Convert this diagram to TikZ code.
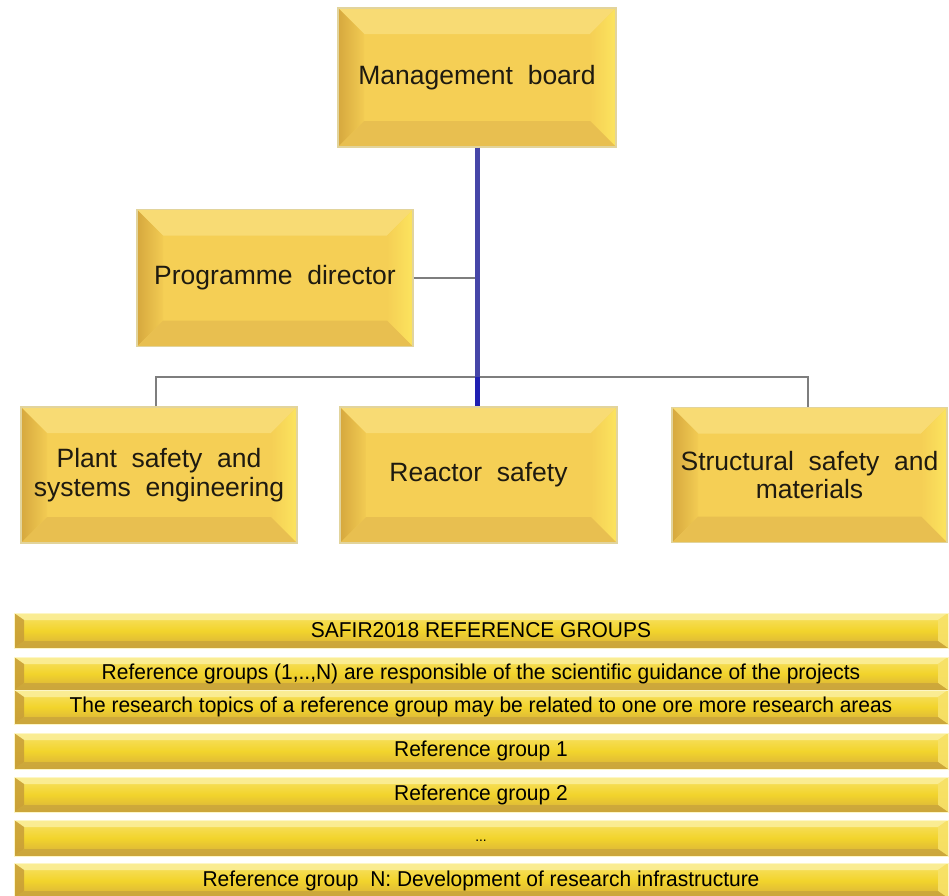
\documentclass[tikz,border=0pt]{standalone}
\usepackage{fontspec}
\setmainfont{Liberation Sans}
\newfontfamily\boxfont[WordSpace=2.0]{Liberation Sans}
\newfontfamily\barfont[FakeStretch=0.975]{Liberation Sans}
\definecolor{face}{HTML}{F5CF55}
\definecolor{bevtop}{HTML}{F8DB74}
\definecolor{bevleftA}{HTML}{D6A83E}
\definecolor{bevright}{HTML}{FCE45E}
\definecolor{bevbot}{HTML}{E8BF50}
\definecolor{boxedge}{HTML}{E2D49C}
\definecolor{txt}{HTML}{1E1A10}
\definecolor{barTop}{HTML}{F8E26A}
\definecolor{barMid}{HTML}{F2D42C}
\definecolor{barBot}{HTML}{D6AE3C}
\definecolor{barLight}{HTML}{FBF0A0}
\definecolor{barDark}{HTML}{C9A43C}
\definecolor{barLeft}{HTML}{C89E38}
\definecolor{lineGray}{HTML}{7E7E7E}
\definecolor{blueUp}{HTML}{4646A8}
\definecolor{blueDn}{HTML}{2020B2}
\tikzset{
  bw/.store in=\bevw, bw=26pt,
  bevelbox/.style={rectangle, inner sep=0pt, fill=face, draw=boxedge, line width=1.2pt,
    font=\boxfont\fontsize{26.5}{28.5}\selectfont, text=txt, align=center,
    path picture={
      \coordinate (A) at (path picture bounding box.north west);
      \coordinate (B) at (path picture bounding box.north east);
      \coordinate (C) at (path picture bounding box.south east);
      \coordinate (D) at (path picture bounding box.south west);
      \fill[bevtop] (A) -- (B) -- ([shift={(-\bevw,-\bevw)}]B) -- ([shift={(\bevw,-\bevw)}]A) -- cycle;
      \shade[left color=bevleftA, right color=face!90!bevleftA] (A) -- ([shift={(\bevw,-\bevw)}]A) -- ([shift={(\bevw,\bevw)}]D) -- (D) -- cycle;
      \shade[left color=face, right color=bevright] (B) -- (C) -- ([shift={(-\bevw,\bevw)}]C) -- ([shift={(-\bevw,-\bevw)}]B) -- cycle;
      \fill[bevbot] (D) -- ([shift={(\bevw,\bevw)}]D) -- ([shift={(-\bevw,\bevw)}]C) -- (C) -- cycle;
    }},
  barbox/.style={rectangle, inner sep=0pt, minimum width=934pt, top color=barTop, bottom color=barBot, middle color=barMid,
    draw=barLight!60!white, line width=1pt,
    font=\barfont\fontsize{21.5}{24}\selectfont, text=black, bw=10pt,
    path picture={
      \coordinate (A) at (path picture bounding box.north west);
      \coordinate (B) at (path picture bounding box.north east);
      \coordinate (C) at (path picture bounding box.south east);
      \coordinate (D) at (path picture bounding box.south west);
      \fill[barLight, opacity=0.8] (A) -- (B) -- ([shift={(-\bevw,-7pt)}]B) -- ([shift={(\bevw,-7pt)}]A) -- cycle;
      \fill[barLeft, opacity=0.85] (A) -- ([shift={(\bevw,-7pt)}]A) -- ([shift={(\bevw,7pt)}]D) -- (D) -- cycle;
      \fill[barTop, opacity=0.9] (B) -- (C) -- ([shift={(-\bevw,7pt)}]C) -- ([shift={(-\bevw,-7pt)}]B) -- cycle;
      \fill[barDark, opacity=0.8] (D) -- ([shift={(\bevw,7pt)}]D) -- ([shift={(-\bevw,7pt)}]C) -- (C) -- cycle;
    }},
  grayline/.style={draw=lineGray, line width=2.6pt},
}
\begin{document}
\begin{tikzpicture}[x=1pt, y=-1pt]
\useasboundingbox[fill=white] (0,0) rectangle (949,895);
% boxes
\node[bevelbox, minimum width=278pt, minimum height=139pt] (mb) at (477,77.5) {Management board};
\node[bevelbox, minimum width=276pt, minimum height=137pt] (pd) at (275,278) {Programme director};
\node[bevelbox, minimum width=276pt, minimum height=136pt] (ps) at (159,475) {Plant safety and\\systems engineering};
\node[bevelbox, minimum width=277pt, minimum height=136pt] (rs) at (478.5,475) {Reactor safety};
\node[bevelbox, minimum width=275pt, minimum height=135pt] (st) at (809.5,475) {Structural safety and\\materials};
% connectors
\coordinate (hy) at (477,377);
\draw[grayline] (pd.east) -- (pd.east -| mb.south);
\draw[grayline] (ps.north -| 156,0) -- (156,377) -- (808,377) -- (st.north -| 808,0);
\draw[blueUp, line width=5pt] (mb.south) -- (mb.south |- hy);
\draw[blueDn, line width=5pt] (mb.south |- hy) -- (mb.south |- rs.north);
% bars
\node[barbox, minimum height=35pt] (b0) at (481,630.5) {SAFIR2018 REFERENCE GROUPS};
\node[barbox, minimum height=33pt] (b1) at (481,673.5) {Reference groups (1,..,N) are responsible of the scientific guidance of the projects};
\node[barbox, minimum height=34pt] (b2) at (481,707) {The research topics of a reference group may be related to one ore more research areas};
\node[barbox, minimum height=36pt] (b3) at (481,751) {Reference group 1};
\node[barbox, minimum height=35pt] (b4) at (481,794.5) {Reference group 2};
\node[barbox, minimum height=36pt] (b5) at (481,838) {\raisebox{-6pt}{\fontsize{14}{16}\selectfont ...}};
\node[barbox, minimum height=35pt] (b6) at (481,880.5) {Reference group\ \ N: Development of research infrastructure};
\end{tikzpicture}
\end{document}
